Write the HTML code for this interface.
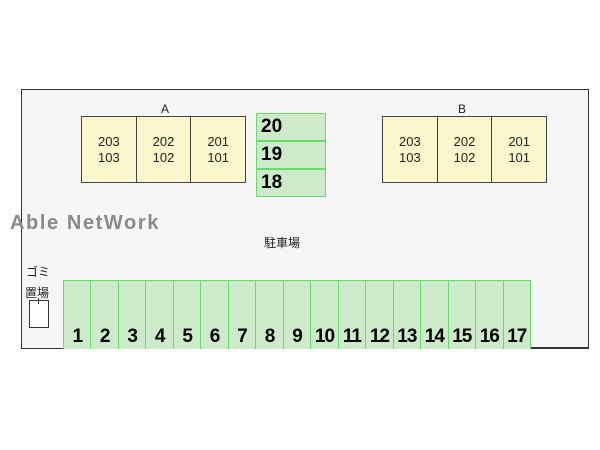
<!DOCTYPE html>
<html><head><meta charset="utf-8"><style>
body{margin:0;width:600px;height:450px;background:#fff;position:relative;overflow:hidden;font-family:"Liberation Sans","Noto Sans CJK JP",sans-serif}
.a{position:absolute;box-sizing:border-box}
.frame{left:21px;top:89px;width:568px;height:260px;border:1.5px solid #333;background:#f6f6f6}
.bld{top:116px;height:67px;width:165px;display:flex;border:1px solid #444;background:#fbf7cc}
.bld div{flex:1;border-right:1px solid #444;display:flex;align-items:center;justify-content:center;text-align:center;font-size:13px;line-height:16px;color:#222}
.bld div:last-child{border-right:none}
.lbl{font-size:12px;color:#222}
.v{left:256px;width:70px;height:28px;border:1.5px solid #66dd66;background:#cdeacb;font:bold 19px "Liberation Sans",sans-serif;padding-left:4px;line-height:26px;color:#000}
.row{left:63px;top:280px;width:468px;height:69px;display:flex;border:1.5px solid #66dd66;border-bottom:none;background:#cdeacb}
.row div{flex:1;border-right:1px solid #66dd66;display:flex;align-items:flex-end;justify-content:center;font:bold 19px "Liberation Sans",sans-serif;letter-spacing:-1px;padding-bottom:1px}
.row div:last-child{border-right:none}
</style></head><body>
<div class="a frame"></div>
<div class="a" style="left:531px;top:347px;width:58px;height:2px;background:#333"></div>
<div class="a lbl" style="left:161px;top:102px">A</div>
<div class="a bld" style="left:81px"><div>203<br>103</div><div>202<br>102</div><div>201<br>101</div></div>
<div class="a lbl" style="left:458px;top:102px">B</div>
<div class="a bld" style="left:382px"><div>203<br>103</div><div>202<br>102</div><div>201<br>101</div></div>
<div class="a v" style="top:113px">20</div>
<div class="a v" style="top:141px">19</div>
<div class="a v" style="top:169px">18</div>
<div class="a" style="left:10px;top:212px;font-weight:bold;font-size:20px;color:#8a8a8a;letter-spacing:1.6px">Able NetWork</div>
<div class="a lbl" style="left:264px;top:234px">駐車場</div>
<div class="a lbl" style="left:26px;top:263px">ゴミ</div>
<div class="a lbl" style="left:25px;top:284px">置場</div>
<div class="a" style="left:29px;top:300px;width:20px;height:28px;border:1px solid #333;background:#fff"></div>
<div class="a" style="left:38px;top:298px;width:1px;height:6px;background:#333"></div>
<div class="a row"><div>1</div><div>2</div><div>3</div><div>4</div><div>5</div><div>6</div><div>7</div><div>8</div><div>9</div><div>10</div><div>11</div><div>12</div><div>13</div><div>14</div><div>15</div><div>16</div><div>17</div></div>
</body></html>
